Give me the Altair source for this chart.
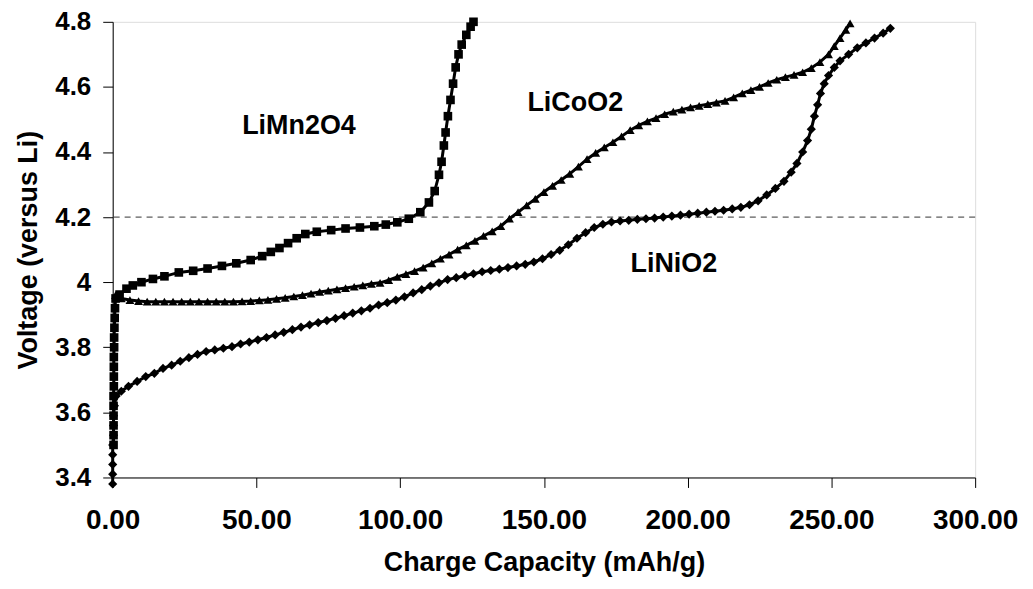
import altair as alt
import pandas as pd

# ---------------- data ----------------
mn_x = [0.3, 0.3, 0.3, 0.3, 0.3, 0.3, 0.4, 0.4, 0.4, 0.4, 0.5, 0.5, 0.6, 0.7, 0.8, 1.0,
        2.4, 4.8, 7, 10, 14, 18, 23, 28, 33, 38, 43, 48, 52, 55, 58, 61, 64, 67, 71, 76,
        81, 86, 91, 95, 99, 103, 107, 110, 112, 113.5, 114.4, 115.2, 115.8, 116.6, 117.5,
        118.4, 119.3, 120.3, 121.4, 123, 124.5, 125.5]
mn_y = [3.50, 3.53, 3.56, 3.59, 3.62, 3.65, 3.68, 3.71, 3.74, 3.77, 3.80, 3.83, 3.86, 3.89, 3.92, 3.95,
        3.962, 3.98, 3.99, 4.0, 4.01, 4.018, 4.03, 4.035, 4.042, 4.05, 4.058, 4.068, 4.08, 4.093, 4.105,
        4.12, 4.135, 4.148, 4.155, 4.16, 4.165, 4.168, 4.172, 4.177, 4.184, 4.195, 4.215, 4.245, 4.28,
        4.33, 4.37, 4.42, 4.46, 4.51, 4.56, 4.61, 4.66, 4.70, 4.73, 4.76, 4.785, 4.80]

co_x = [1, 3, 6, 9, 12, 15, 18, 21, 24, 27, 30, 33, 36, 39, 42, 45, 48, 51, 54, 57, 60, 63, 66,
        69, 72, 75, 78, 81, 84, 87, 90, 93, 96, 99, 102, 105, 108, 111, 114, 117, 120, 123, 126,
        129, 132, 135, 138, 141, 144, 147, 150, 153, 156, 159, 162, 165, 168, 171, 174, 177, 180,
        183, 186, 189, 192, 195, 198, 201, 204, 207, 210, 213, 216, 219, 222, 225, 228, 231, 234,
        237, 240, 243, 246, 249, 251, 253, 255, 256.5]
co_y = [3.96, 3.95, 3.945, 3.942, 3.94, 3.94, 3.94, 3.94, 3.94, 3.94, 3.94, 3.94, 3.94, 3.94, 3.94,
        3.941, 3.942, 3.944, 3.946, 3.949, 3.952, 3.956, 3.96, 3.965, 3.97, 3.974, 3.978, 3.982,
        3.986, 3.99, 3.995, 3.998, 4.006, 4.016, 4.025, 4.034, 4.045, 4.058, 4.072, 4.085, 4.1,
        4.113, 4.127, 4.142, 4.156, 4.172, 4.195, 4.215, 4.236, 4.256, 4.277, 4.296, 4.314, 4.333,
        4.355, 4.378, 4.397, 4.414, 4.43, 4.448, 4.467, 4.482, 4.494, 4.504, 4.516, 4.524, 4.53,
        4.537, 4.542, 4.547, 4.552, 4.557, 4.568, 4.58, 4.59, 4.6, 4.612, 4.622, 4.63, 4.637, 4.645,
        4.658, 4.676, 4.7, 4.725, 4.75, 4.775, 4.795]

ni_x = [0, 0, 0, 0, 0, 0.3, 0.3, 0.3, 0.6, 1.2, 3, 5.5, 8.5, 11.5, 14.5, 17.5, 20.5, 23.5, 26.5,
        29.5, 32.5, 35.5, 38.5, 41.5, 44.5, 47.5, 50.5, 53.5, 56.5, 59.5, 62.5, 65.5, 68.5, 71.5,
        74.5, 77.5, 80.5, 83.5, 86.5, 89.5, 92.5, 95.5, 98.5, 101.5, 104.5, 107.5, 110.5, 113.5,
        116.5, 119.5, 122.5, 125.5, 128.5, 131.5, 134.5, 137.5, 140.5, 143.5, 146.5, 149.5, 152.5,
        155.5, 158.5, 161.5, 164.5, 167.5, 170.5, 173.5, 176.5, 179.5, 182.5, 185.5, 188.5, 191.5,
        194.5, 197.5, 200.5, 203.5, 206.5, 209.5, 212.5, 215.5, 218.5, 221.5, 224.5, 227.5, 230.5,
        233.5, 236, 238, 240, 241.7, 243, 244.1, 245.2, 246.2, 247.5, 249, 251, 253, 256, 259, 262,
        265, 268, 270.5]
ni_y = [3.38, 3.41, 3.44, 3.47, 3.50, 3.53, 3.56, 3.59, 3.62, 3.65, 3.665, 3.68, 3.695, 3.71, 3.72,
        3.735, 3.745, 3.757, 3.768, 3.778, 3.787, 3.792, 3.797, 3.802, 3.81, 3.816, 3.823, 3.83,
        3.838, 3.846, 3.854, 3.862, 3.869, 3.876, 3.882, 3.889, 3.897, 3.905, 3.912, 3.92, 3.93,
        3.937, 3.945, 3.955, 3.967, 3.977, 3.988, 3.998, 4.008, 4.014, 4.02, 4.026, 4.032, 4.036,
        4.04, 4.045, 4.05, 4.055, 4.062, 4.072, 4.085, 4.098, 4.115, 4.135, 4.152, 4.168, 4.178,
        4.185, 4.188, 4.19, 4.193, 4.195, 4.197, 4.2, 4.203, 4.206, 4.209, 4.212, 4.215, 4.218,
        4.221, 4.225, 4.23, 4.238, 4.25, 4.268, 4.288, 4.31, 4.338, 4.365, 4.4, 4.435, 4.47, 4.51,
        4.545, 4.58, 4.61, 4.635, 4.66, 4.68, 4.70, 4.72, 4.735, 4.75, 4.765, 4.78]

series_names = ["LiNiO2", "LiCoO2", "LiMn2O4"]
series_shapes = ["diamond", "triangle-up", "square"]
series_sizes = [85, 75, 95]

x_ticks = [0, 50, 100, 150, 200, 250, 300]
y_ticks = [3.4, 3.6, 3.8, 4.0, 4.2, 4.4, 4.6, 4.8]
ref_level = [4.2]

label_text = ["LiMn2O4", "LiCoO2", "LiNiO2"]
label_x = [64.8, 160.9, 195.2]
label_y = [4.481, 4.552, 4.056]

# ---------------- build tables ----------------
rows = []
for name, xs, ys in [("LiNiO2", ni_x, ni_y), ("LiCoO2", co_x, co_y), ("LiMn2O4", mn_x, mn_y)]:
    for i, (a, b) in enumerate(zip(xs, ys)):
        rows.append({"series": name, "x": a, "y": b, "i": i})
df = pd.DataFrame(rows)
ref_df = pd.DataFrame({"y": ref_level})
lab_df = pd.DataFrame({"text": label_text, "x": label_x, "y": label_y})

FONT = "Liberation Sans"

xscale = alt.Scale(domain=[0, 300], nice=False, zero=False)
yscale = alt.Scale(domain=[3.4, 4.8], nice=False, zero=False)

xenc = alt.X("x:Q", scale=xscale,
             axis=alt.Axis(values=x_ticks, format=".2f", title="Charge Capacity (mAh/g)",
                           labelFont=FONT, labelFontSize=28, labelFontWeight="bold",
                           labelPadding=19, tickSize=10, tickColor="black", domainColor="black",
                           labelColor="black", titleFont=FONT, titleFontSize=27,
                           titleFontWeight="bold", titleColor="black", titlePadding=15,
                           grid=False, labelFlush=False, labelOverlap=False))
yenc = alt.Y("y:Q", scale=yscale,
             axis=alt.Axis(values=y_ticks, labelExpr="format(datum.value, '.1~f')",
                           title="Voltage (versus Li)",
                           labelFont=FONT, labelFontSize=26, labelFontWeight="bold",
                           labelPadding=12, tickSize=10, tickColor="black", domainColor="black",
                           labelColor="black", titleFont=FONT, titleFontSize=27,
                           titleFontWeight="bold", titleColor="black", titlePadding=12,
                           grid=False, labelFlush=False, labelOverlap=False))

base = alt.Chart(df)

lines = base.mark_line(color="black", strokeWidth=3).encode(
    x=xenc, y=yenc, detail="series:N", order="i:Q")

points = base.mark_point(filled=True, color="black", opacity=1).encode(
    x="x:Q", y="y:Q",
    shape=alt.Shape("series:N", scale=alt.Scale(domain=series_names, range=series_shapes), legend=None),
    size=alt.Size("series:N", scale=alt.Scale(domain=series_names, range=series_sizes), legend=None),
)

rule = alt.Chart(ref_df).mark_rule(color="#333333", strokeWidth=1, strokeDash=[6, 5]).encode(
    y="y:Q")

labels = alt.Chart(lab_df).mark_text(font=FONT, fontSize=27, fontWeight="bold", color="black").encode(
    x="x:Q", y="y:Q", text="text:N")

chart = alt.layer(rule, lines, points, labels).properties(
    width=865, height=457,
    autosize=alt.AutoSizeParams(type="none"),
    padding={"left": 105, "top": 13, "right": 50, "bottom": 110},
).configure_view(stroke="black", strokeWidth=1).configure(background="white")

chart.save("out.html", embed_options={"renderer": "svg", "actions": False})
